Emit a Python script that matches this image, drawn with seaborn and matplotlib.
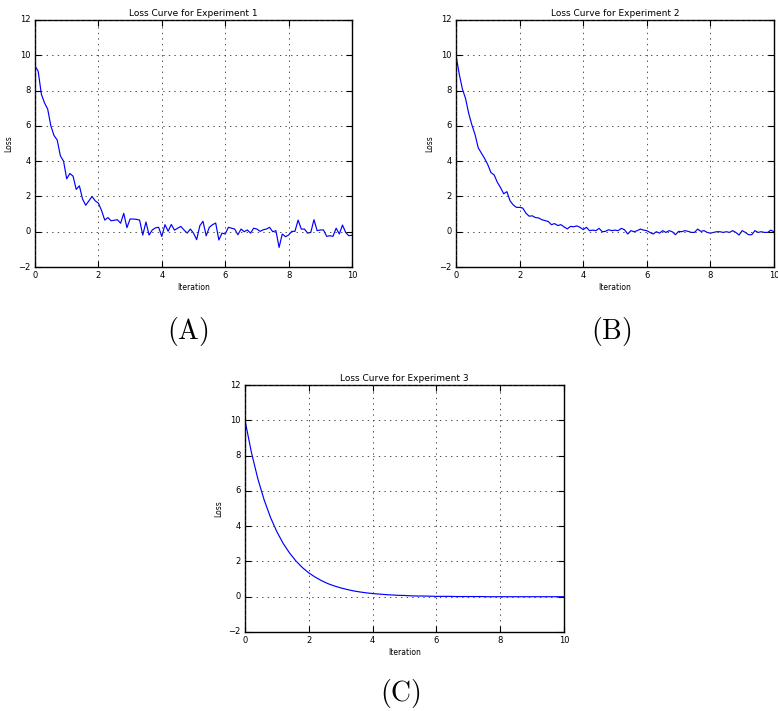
import numpy as np
import pandas as pd
import matplotlib
matplotlib.use("Agg")
import matplotlib.pyplot as plt
import seaborn as sns

# ---- data ----
iter_noisy = np.round(np.arange(101) * 0.1, 1)
loss_exp1 = [9.4, 9.1, 7.8, 7.3, 6.95, 6.0, 5.45, 5.2, 4.3, 4.0,
             3.0, 3.3, 3.15, 2.4, 2.6, 1.85, 1.5, 1.75, 2.0, 1.75,
             1.62, 1.2, 0.66, 0.8, 0.62, 0.65, 0.68, 0.48, 1.04, 0.23,
             0.72, 0.72, 0.7, 0.66, -0.19, 0.55, -0.19, 0.1, 0.22, 0.25,
             -0.27, 0.4, 0.03, 0.41, 0.09, 0.2, 0.3, 0.1, -0.08, 0.15,
             -0.08, -0.45, 0.34, 0.59, -0.23, 0.25, 0.4, 0.49, -0.47, -0.08,
             -0.13, 0.25, 0.2, 0.15, -0.17, 0.15, 0.0, 0.1, -0.08, 0.2,
             0.15, 0.02, 0.11, 0.15, 0.25, 0.0, 0.06, -0.89, -0.13, -0.28,
             -0.19, 0.02, 0.02, 0.66, 0.15, 0.15, -0.08, -0.04, 0.68, 0.06,
             0.1, 0.1, -0.26, -0.23, -0.26, 0.2, -0.13, 0.38, -0.04, -0.23,
             -0.2]
loss_exp2 = [10.0, 8.95, 8.1, 7.55, 6.7, 6.05, 5.5, 4.75, 4.45, 4.15,
             3.8, 3.35, 3.22, 2.8, 2.5, 2.15, 2.27, 1.75, 1.52, 1.38,
             1.38, 1.34, 1.05, 0.88, 0.9, 0.8, 0.78, 0.68, 0.63, 0.58,
             0.4, 0.46, 0.35, 0.4, 0.27, 0.16, 0.3, 0.28, 0.33, 0.25,
             0.12, 0.25, 0.06, 0.09, 0.06, 0.19, 0.0, 0.02, 0.11, 0.06,
             0.09, 0.06, 0.19, 0.11, -0.13, 0.06, 0.0, 0.06, 0.15, 0.09,
             0.06, -0.04, -0.13, 0.0, -0.08, 0.06, -0.04, 0.06, 0.0, -0.17,
             0.02, 0.0, 0.06, 0.02, -0.04, -0.04, 0.15, 0.02, 0.06, -0.04,
             -0.08, -0.04, 0.0, 0.0, -0.04, 0.0, -0.04, 0.06, -0.04, -0.19,
             0.06, -0.04, -0.17, -0.17, 0.06, -0.04, 0.0, -0.04, -0.04, 0.09,
             0.0]
iter_smooth = np.round(np.arange(51) * 0.2, 1)
loss_exp3 = [10.0, 8.19, 6.70, 5.49, 4.49, 3.68, 3.01, 2.47, 2.02, 1.65,
             1.35, 1.11, 0.91, 0.74, 0.61, 0.50, 0.41, 0.33, 0.27, 0.22,
             0.18, 0.15, 0.12, 0.10, 0.08, 0.07, 0.05, 0.04, 0.04, 0.03,
             0.02, 0.02, 0.02, 0.01, 0.01, 0.01, 0.01, 0.01, 0.0, 0.0,
             0.0, 0.0, 0.0, 0.0, 0.0, 0.0, 0.0, 0.0, 0.0, 0.0,
             0.0]
titles = ["Loss Curve for Experiment 1", "Loss Curve for Experiment 2",
          "Loss Curve for Experiment 3"]
panel_labels = ["(A)", "(B)", "(C)"]
x_ticks = [0, 2, 4, 6, 8, 10]
y_ticks = [-2, 0, 2, 4, 6, 8, 10, 12]

plt.style.use("classic")
plt.rcParams["font.family"] = ["DejaVu Sans"]
plt.rcParams["mathtext.fontset"] = "cm"

fig = plt.figure(figsize=(7.78, 7.11), dpi=100, facecolor="white")

W, H = 778.0, 711.0
def rect(l, t, r, b):
    return [l / W, 1 - b / H, (r - l) / W, (b - t) / H]

axes_rects = [rect(35, 20, 352, 267), rect(456, 20, 774, 267), rect(245, 385, 564, 632)]
series = [(iter_noisy, loss_exp1), (iter_noisy, loss_exp2), (iter_smooth, loss_exp3)]
label_pos = [(188 / W, 1 - 332 / H), (611 / W, 1 - 332 / H), (400 / W, 1 - 693 / H)]

for i in range(3):
    ax = fig.add_axes(axes_rects[i])
    ax.set_facecolor("white")
    xs, ys = series[i]
    df = pd.DataFrame({"Iteration": xs, "Loss": ys})
    sns.lineplot(data=df, x="Iteration", y="Loss", ax=ax, color="blue",
                 linewidth=0.85, estimator=None)
    ax.set_xlim(0, 10)
    ax.set_ylim(-2, 12)
    ax.set_xticks(x_ticks)
    ax.set_yticks(y_ticks)
    ax.grid(True, color="#333333", linestyle=":", linewidth=0.6)
    ax.tick_params(labelsize=6, direction="in", top=True, right=True,
                   length=4, width=0.8, pad=3)
    ax.set_title(titles[i], fontsize=6.5, pad=3)
    ax.set_xlabel("Iteration", fontsize=5.5, labelpad=2)
    ax.set_ylabel("Loss", fontsize=5.5, labelpad=4)
    for s in ax.spines.values():
        s.set_linewidth(1.0)
    fig.text(label_pos[i][0], label_pos[i][1], r"$\mathrm{" + panel_labels[i] + "}$",
             fontsize=20, ha="center", va="center")

fig.savefig("out.png", dpi=100, facecolor="white")
